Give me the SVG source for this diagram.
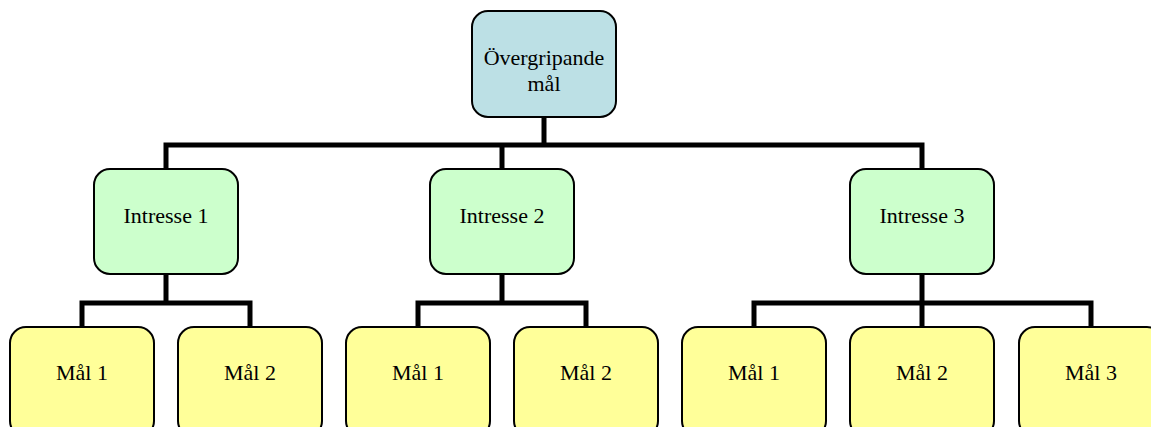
<svg xmlns="http://www.w3.org/2000/svg" width="1151" height="427" viewBox="0 0 1151 427">
<style>
.box{stroke:#000;stroke-width:2}
.top{fill:#BCE0E5}
.mid{fill:#CCFFCC}
.leaf{fill:#FFFF99}
.conn{fill:none;stroke:#000;stroke-width:5;stroke-linejoin:miter;stroke-linecap:square}
.t{font-family:'Liberation Serif','DejaVu Serif',serif;font-size:22px;fill:#000;text-anchor:middle}
</style>
<rect width="1151" height="427" fill="#fff"/>
<g id="connectors">
<path class="conn" d="M544,118 V145 M166,168 V145 H922 V168 M502,145 V168"/>
<path class="conn" d="M166,275 V303 M82,326 V303 H250 V326"/>
<path class="conn" d="M502,275 V303 M418,326 V303 H586 V326"/>
<path class="conn" d="M922,275 V303 M754,326 V303 H1091 V326 M922,303 V326"/>
</g>
<g id="n-top"><rect class="box top" x="472" y="11" width="144" height="106" rx="16"/><text class="t" x="544" y="65" font-family="Liberation Serif, serif">Övergripande</text><text class="t" x="544" y="91" font-family="Liberation Serif, serif">mål</text></g>
<g id="n-i1"><rect class="box mid" x="94" y="169" width="144" height="105" rx="16"/><text class="t" x="166" y="223" font-family="Liberation Serif, serif">Intresse 1</text></g>
<g id="n-i2"><rect class="box mid" x="430" y="169" width="144" height="105" rx="16"/><text class="t" x="502" y="223" font-family="Liberation Serif, serif">Intresse 2</text></g>
<g id="n-i3"><rect class="box mid" x="850" y="169" width="144" height="105" rx="16"/><text class="t" x="922" y="223" font-family="Liberation Serif, serif">Intresse 3</text></g>
<g id="n-m11"><rect class="box leaf" x="10" y="327" width="144" height="110" rx="16"/><text class="t" x="82" y="380" font-family="Liberation Serif, serif">Mål 1</text></g>
<g id="n-m12"><rect class="box leaf" x="178" y="327" width="144" height="110" rx="16"/><text class="t" x="250" y="380" font-family="Liberation Serif, serif">Mål 2</text></g>
<g id="n-m21"><rect class="box leaf" x="346" y="327" width="144" height="110" rx="16"/><text class="t" x="418" y="380" font-family="Liberation Serif, serif">Mål 1</text></g>
<g id="n-m22"><rect class="box leaf" x="514" y="327" width="144" height="110" rx="16"/><text class="t" x="586" y="380" font-family="Liberation Serif, serif">Mål 2</text></g>
<g id="n-m31"><rect class="box leaf" x="682" y="327" width="144" height="110" rx="16"/><text class="t" x="754" y="380" font-family="Liberation Serif, serif">Mål 1</text></g>
<g id="n-m32"><rect class="box leaf" x="850" y="327" width="144" height="110" rx="16"/><text class="t" x="922" y="380" font-family="Liberation Serif, serif">Mål 2</text></g>
<g id="n-m33"><rect class="box leaf" x="1019" y="327" width="144" height="110" rx="16"/><text class="t" x="1091" y="380" font-family="Liberation Serif, serif">Mål 3</text></g>
</svg>
